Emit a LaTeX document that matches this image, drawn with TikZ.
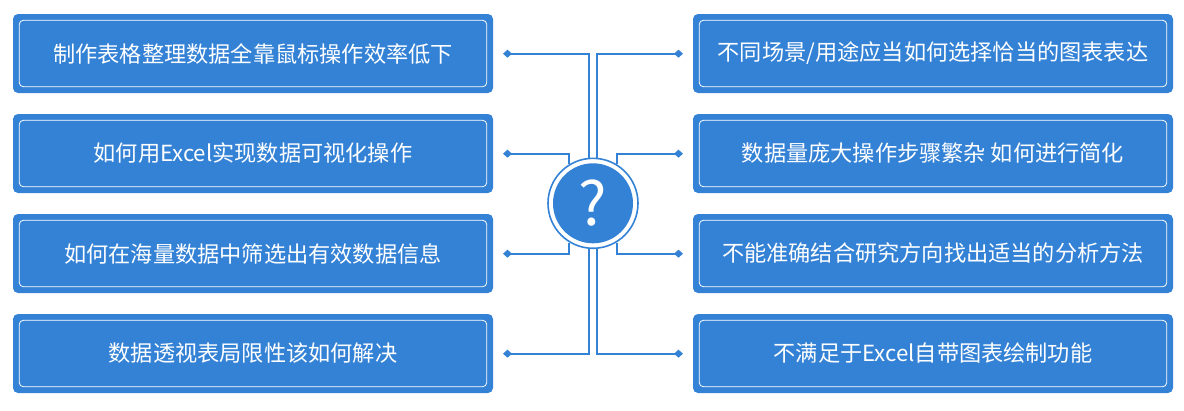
\documentclass[tikz,border=0pt]{standalone}
\usepackage{fontspec}
\setmainfont{Noto Sans CJK SC}
\usetikzlibrary{arrows.meta,calc}
\definecolor{qblue}{RGB}{52,130,214}
\begin{document}
\begin{tikzpicture}[x=1pt,y=-1pt,
  qbox/.style={fill=qblue,rounded corners=5pt,minimum width=480pt,minimum height=79pt,inner sep=0pt,text=white,font=\fontsize{22.2}{24}\selectfont},
  conn/.style={draw=qblue,line width=2pt,{Diamond[length=9pt,width=8pt]}-},
]
\useasboundingbox (0,0) rectangle (1184,410);
\foreach \n/\y/\t in {1/53.5/{制作表格整理数据全靠鼠标操作效率低下},2/153.5/{如何用Excel实现数据可视化操作},3/253.5/{如何在海量数据中筛选出有效数据信息},4/353.5/{数据透视表局限性该如何解决}}{
  \node[qbox] (L\n) at (253,\y) {\t};
  \draw[white,line width=0.8pt,rounded corners=4pt] ([xshift=6.5pt,yshift=-6.5pt]L\n.north west) rectangle ([xshift=-6.5pt,yshift=6.5pt]L\n.south east);
}
\foreach \n/\y/\t in {1/53.5/{不同场景/用途应当如何选择恰当的图表表达},2/153.5/{数据量庞大操作步骤繁杂 如何进行简化},3/253.5/{不能准确结合研究方向找出适当的分析方法},4/353.5/{不满足于Excel自带图表绘制功能}}{
  \node[qbox] (R\n) at (933,\y) {\t};
  \draw[white,line width=0.8pt,rounded corners=4pt] ([xshift=6.5pt,yshift=-6.5pt]R\n.north west) rectangle ([xshift=-6.5pt,yshift=6.5pt]R\n.south east);
}
\node[circle,draw=qblue,line width=1.6pt,minimum size=90pt,inner sep=0pt] (Qo) at (593,203.3) {};
\node[circle,fill=qblue,minimum size=80pt,inner sep=0pt,text=white,font=\fontsize{60}{60}\selectfont] (Q) at (593,203.3) {?};
\coordinate (dl1) at (503,53.7);
\coordinate (dl2) at (503,153.7);
\coordinate (dl3) at (503,253.7);
\coordinate (dl4) at (503,353.7);
\coordinate (dr1) at (683,53.7);
\coordinate (dr2) at (683,153.7);
\coordinate (dr3) at (683,253.7);
\coordinate (dr4) at (683,353.7);
\draw[conn] (dl1) -| ([xshift=-4pt]Qo.north);
\draw[conn] (dr1) -| ([xshift=4pt]Qo.north);
\draw[conn] (dl2) -| (Qo.121);
\draw[conn] (dr2) -| (Qo.59);
\draw[conn] (dl3) -| (Qo.239);
\draw[conn] (dr3) -| (Qo.301);
\draw[conn] (dl4) -| ([xshift=-4pt]Qo.south);
\draw[conn] (dr4) -| ([xshift=4pt]Qo.south);
\end{tikzpicture}
\end{document}
